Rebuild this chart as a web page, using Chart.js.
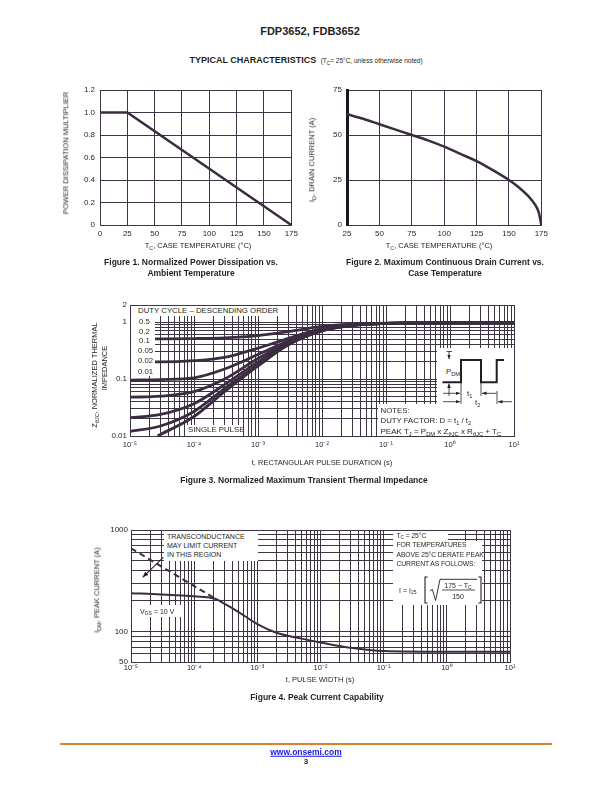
<!DOCTYPE html>
<html>
<head>
<meta charset="utf-8">
<title>FDP3652, FDB3652 typical characteristics</title>
<script src="https://cdn.jsdelivr.net/npm/chart.js@4.4.1/dist/chart.umd.min.js"></script>
<style>
html, body { margin: 0; padding: 0; background: #fff; }
#page { position: relative; width: 612px; height: 792px; overflow: hidden;
        font-family: "Liberation Sans", Arial, sans-serif; color: #231f20; }
#page canvas { position: absolute; }
.t { position: absolute; white-space: nowrap; line-height: 1; }
.c { transform: translate(-50%, -50%); }
.l { transform: translate(0, -50%); }
.r { transform: translate(-50%, -50%) rotate(-90deg); }
.w { position: absolute; background: #fff; }
.t sub { font-size: 72%; vertical-align: -0.35em; line-height: 0; }
.cap { font-weight: bold; font-size: 8.5px; }
.ax { font-size: 7.5px; }
.an { font-size: 7.8px; }
.an4 { font-size: 7px; }
.an4r { font-size: 6.8px; letter-spacing: -0.1px; }
svg { position: absolute; left: 0; top: 0; }
</style>
</head>
<body>
<div id="page">
<div class="t c" style="left:310px;top:31px;font-size:11px;font-weight:bold">FDP3652, FDB3652</div>
<div class="t c" style="left:306px;top:58px"><span style="font-size:9px;font-weight:bold">TYPICAL CHARACTERISTICS</span> <span style="font-size:6.5px">(T<sub>C</sub>= 25°C, unless otherwise noted)</span></div>

<canvas id="fig1" width="242" height="165" style="left:60px;top:80px"></canvas>
<canvas id="fig2" width="245" height="165" style="left:307px;top:80px"></canvas>
<canvas id="fig3" width="434" height="161" style="left:90px;top:295px"></canvas>
<canvas id="fig4" width="429" height="162" style="left:91px;top:520px"></canvas>

<!-- figure 1 / 2 text -->
<div class="t r ax" style="left:66px;top:153px">POWER DISSIPATION MULTIPLIER</div>
<div class="t c ax" style="left:198px;top:246px">T<sub>C</sub>, CASE TEMPERATURE (°C)</div>
<div class="t c cap" style="left:191px;top:262px">Figure 1. Normalized Power Dissipation vs.</div>
<div class="t c cap" style="left:191px;top:272.5px">Ambient Temperature</div>

<div class="t r ax" style="left:312px;top:160px">I<sub>D</sub>, DRAIN CURRENT (A)</div>
<div class="t c ax" style="left:439px;top:246px">T<sub>C</sub>, CASE TEMPERATURE (°C)</div>
<div class="t c cap" style="left:445px;top:262px">Figure 2. Maximum Continuous Drain Current vs.</div>
<div class="t c cap" style="left:445px;top:272.5px">Case Temperature</div>

<!-- figure 3 annotation boxes -->
<div class="w" style="left:136px;top:305.5px;width:148px;height:10.5px"></div>
<div class="w" style="left:130.5px;top:316px;width:24px;height:60px"></div>
<div class="w" style="left:186px;top:424.5px;width:55px;height:11px"></div>
<div class="w" style="left:437px;top:348px;width:76.5px;height:87.5px"></div>
<div class="w" style="left:378px;top:404px;width:135.5px;height:31.5px"></div>

<div class="t l an" style="left:138px;top:310.5px">DUTY CYCLE – DESCENDING ORDER</div>
<div class="t l an" style="left:139px;top:322px">0.5</div>
<div class="t l an" style="left:139px;top:331.5px">0.2</div>
<div class="t l an" style="left:139px;top:341.3px">0.1</div>
<div class="t l an" style="left:138px;top:351.3px">0.05</div>
<div class="t l an" style="left:138px;top:361.3px">0.02</div>
<div class="t l an" style="left:138px;top:371.7px">0.01</div>
<div class="t l an" style="left:188px;top:430px">SINGLE PULSE</div>
<div class="t l an" style="left:446px;top:372px">P<sub>DM</sub></div>
<div class="t l an" style="left:467px;top:393.5px">t<sub>1</sub></div>
<div class="t l an" style="left:475px;top:403px">t<sub>2</sub></div>
<div class="t l an" style="left:380.5px;top:410.5px">NOTES:</div>
<div class="t l an" style="left:380.5px;top:421px">DUTY FACTOR: D = t<sub>1</sub> / t<sub>2</sub></div>
<div class="t l an" style="left:380.5px;top:431.5px;font-size:8px">PEAK T<sub>J</sub> = P<sub>DM</sub> x Z<sub>θJC</sub> x R<sub>θJC</sub> + T<sub>C</sub></div>

<div class="t r ax" style="left:95px;top:375px">Z<sub>θJC</sub>, NORMALIZED THERMAL</div>
<div class="t r ax" style="left:104.5px;top:368px">IMPEDANCE</div>
<div class="t c ax" style="left:322px;top:463px">t, RECTANGULAR PULSE DURATION (s)</div>
<div class="t c cap" style="left:304px;top:480px">Figure 3. Normalized Maximum Transient Thermal Impedance</div>

<!-- figure 4 annotation boxes -->
<div class="w" style="left:164px;top:530.5px;width:94px;height:30.5px"></div>
<div class="w" style="left:137.5px;top:605px;width:44px;height:12px"></div>
<div class="w" style="left:392.5px;top:530.5px;width:55px;height:10.5px"></div>
<div class="w" style="left:392.5px;top:541px;width:89.5px;height:64px"></div>

<div class="t l an4" style="left:167px;top:535.7px">TRANSCONDUCTANCE</div>
<div class="t l an4" style="left:167px;top:545px">MAY LIMIT CURRENT</div>
<div class="t l an4" style="left:167px;top:554.3px">IN THIS REGION</div>
<div class="t l an4" style="left:140px;top:610.7px">V<sub>GS</sub> = 10 V</div>
<div class="t l an4r" style="left:396.5px;top:535.5px">T<sub>C</sub> = 25°C</div>
<div class="t l an4r" style="left:396.5px;top:545px">FOR TEMPERATURES</div>
<div class="t l an4r" style="left:396.5px;top:554.5px">ABOVE 25°C DERATE PEAK</div>
<div class="t l an4r" style="left:396.5px;top:564px">CURRENT AS FOLLOWS:</div>
<div class="t l an4" style="left:399px;top:590px">I = I<sub>25</sub></div>
<div class="t c" style="left:458px;top:584.5px;font-size:7px">175 − T<sub>C</sub></div>
<div class="t c" style="left:458px;top:595.5px;font-size:7px">150</div>

<div class="t r ax" style="left:97px;top:590px">I<sub>DM</sub>, PEAK CURRENT (A)</div>
<div class="t c ax" style="left:320px;top:680px">t, PULSE WIDTH (s)</div>
<div class="t c cap" style="left:317px;top:697px">Figure 4. Peak Current Capability</div>

<svg width="612" height="792" viewBox="0 0 612 792">
  <defs>
    <marker id="ah" viewBox="0 0 10 10" refX="10" refY="5" markerWidth="4.5" markerHeight="4.5" markerUnits="userSpaceOnUse" orient="auto">
      <path d="M0,1 L10,5 L0,9 z" fill="#231f20"/>
    </marker>
    <marker id="ahBig" viewBox="0 0 10 10" refX="10" refY="5" markerWidth="6" markerHeight="6" markerUnits="userSpaceOnUse" orient="auto">
      <path d="M0,1 L10,5 L0,9 z" fill="#231f20"/>
    </marker>
  </defs>
  <g stroke="#231f20" fill="none">
    <!-- pulse train sketch -->
    <polyline stroke-width="2" points="442.5,382.3 461,382.3 461,360 481,360 481,382.3 496.7,382.3 496.7,360 504,360"/>
    <g stroke-width="0.8">
      <line x1="461" y1="382.3" x2="461" y2="404"/>
      <line x1="481" y1="382.3" x2="481" y2="396"/>
      <line x1="497" y1="391" x2="497" y2="404"/>
      <line x1="446.5" y1="351.5" x2="452" y2="351.5"/>
      <line x1="449" y1="351.5" x2="449" y2="359" marker-end="url(#ah)"/>
      <line x1="449" y1="396" x2="449" y2="383.5" marker-end="url(#ah)"/>
      <line x1="443" y1="393.3" x2="460" y2="393.3" marker-end="url(#ah)"/>
      <line x1="496.5" y1="393.3" x2="482" y2="393.3" marker-end="url(#ah)"/>
      <line x1="443" y1="401.7" x2="460" y2="401.7" marker-end="url(#ah)"/>
      <line x1="512" y1="401.7" x2="498" y2="401.7" marker-end="url(#ah)"/>
    </g>
    <!-- transconductance arrow -->
    <line stroke-width="1.1" x1="163.3" y1="557.3" x2="142.7" y2="577.3" marker-end="url(#ahBig)"/>
    <!-- derating formula brackets and root -->
    <path stroke-width="1.1" d="M427.6,577 H425 V603 H427.6"/>
    <path stroke-width="1.1" d="M478.4,577 H481 V603 H478.4"/>
    <path stroke-width="0.9" d="M430,591 L432.3,589.4 L435.6,600.5 L440,579.3 H477"/>
    <line stroke-width="0.8" x1="442" y1="590" x2="475" y2="590"/>
  </g>
</svg>

<div style="position:absolute;left:60px;top:743px;width:492px;height:2px;background:#d9822b"></div>
<div class="t c" style="left:306px;top:752px;font-size:8.5px;font-weight:bold;color:#1a1adf;text-decoration:underline">www.onsemi.com</div>
<div class="t c" style="left:306px;top:762px;font-size:8px;font-weight:bold">3</div>
</div>

<script>
// ---- Figure 1: normalized power dissipation vs. case temperature
var fig1Temp = [0, 25, 175];
var fig1Mult = [1.0, 1.0, 0];

// ---- Figure 2: maximum continuous drain current vs. case temperature
var fig2Temp = [25, 37.5, 50, 62.5, 75, 87.5, 100, 112.5, 125, 137.5, 150, 157.5, 165, 170, 173, 175];
var fig2Id   = [61.5, 59, 56, 53, 50, 47, 43.5, 39.5, 35.5, 30.5, 25, 21, 16, 11.5, 7, 0];

// ---- Figure 3: normalized transient thermal impedance, one array per duty cycle
var zTime  = [1e-5, 3e-5, 1e-4, 3e-4, 1e-3, 3e-3, 1e-2, 3e-2, 1e-1, 1, 10];
var zD50   = [0.51, 0.51, 0.515, 0.53, 0.58, 0.68, 0.84, 0.92, 0.96, 0.98, 0.98];
var zD20   = [0.2, 0.2, 0.21, 0.24, 0.35, 0.52, 0.77, 0.9, 0.95, 0.98, 0.98];
var zD10   = [0.096, 0.098, 0.105, 0.15, 0.27, 0.47, 0.75, 0.89, 0.95, 0.98, 0.98];
var zD05   = [0.048, 0.05, 0.06, 0.1, 0.23, 0.44, 0.73, 0.88, 0.95, 0.98, 0.98];
var zD02   = [0.021, 0.024, 0.037, 0.08, 0.2, 0.42, 0.72, 0.88, 0.95, 0.98, 0.98];
var zD01   = [0.012, 0.015, 0.027, 0.068, 0.18, 0.41, 0.71, 0.88, 0.95, 0.98, 0.98];
var zSingleTime = [2.7e-5, 1e-4, 3e-4, 1e-3, 3e-3, 1e-2, 3e-2, 1e-1, 1, 10];
var zSingle     = [0.01, 0.022, 0.06, 0.17, 0.4, 0.7, 0.87, 0.95, 0.98, 0.98];

// ---- Figure 4: peak current capability
var idmTime  = [1e-5, 3e-5, 1e-4, 2.2e-4, 3e-4, 5e-4, 1e-3, 2e-3, 5e-3, 1e-2, 3e-2, 1e-1, 1, 10];
var idmVgs10 = [238, 232, 222, 209, 188, 156, 118, 97, 85, 78, 69, 64, 63, 63];
var gfsTime  = [1e-5, 2.2e-4];
var gfsLimit = [660, 209];

// ---- tick labels
var logXMajor  = [1e-5, 1e-4, 1e-3, 1e-2, 1e-1, 1, 10];
var logXLabels = ['10⁻⁵', '10⁻⁴', '10⁻³', '10⁻²', '10⁻¹', '10⁰', '10¹'];
var fig3YMajor  = [0.01, 0.1, 1, 2];
var fig3YLabels = ['0.01', '0.1', '1', '2'];
var fig4YMajor  = [50, 100, 1000];
var fig4YLabels = ['50', '100', '1000'];

var INK = '#3b2c40';
var GRID = '#3f3445';
var TXT = '#231f20';
var FONT = "'Liberation Sans', Arial, sans-serif";

// every 1..9 step of each decade between lo and hi (grid lines)
function logGrid(lo, hi) {
  var out = [];
  for (var e = Math.floor(Math.log10(lo)); e <= Math.ceil(Math.log10(hi)); e++) {
    for (var m = 1; m < 10; m++) {
      var v = +(m * Math.pow(10, e)).toPrecision(6);
      if (v >= lo * 0.999 && v <= hi * 1.001) out.push(v);
    }
  }
  return out;
}

function majorLabel(major, labels) {
  return function (v) {
    for (var i = 0; i < major.length; i++) {
      if (Math.abs(major[i] - v) <= major[i] * 1e-6) return labels[i];
    }
    return '';
  };
}

function series(xv, yv, extra) {
  var ds = {
    data: xv.map(function (x, i) { return { x: x, y: yv[i] }; }),
    borderColor: INK, borderWidth: 2.5, pointRadius: 0, fill: false
  };
  return Object.assign(ds, extra || {});
}

function scale(o) {
  var isX = o.axis === 'x';
  var cfg = {
    type: o.type, min: o.min, max: o.max,
    grid: { color: GRID, lineWidth: 1, drawTicks: false },
    border: { color: o.borderColor || GRID, width: o.borderWidth || 1 },
    ticks: {
      color: TXT, font: { family: FONT, size: o.fontSize || 8 }, padding: o.pad,
      autoSkip: false, maxRotation: 0, minRotation: 0
    },
    afterFit: isX ? function (s) { s.height = 20; } : function (s) { s.width = 40; }
  };
  if (o.step) cfg.ticks.stepSize = o.step;
  if (o.grid) cfg.afterBuildTicks = function (s) { s.ticks = o.grid.map(function (v) { return { value: v }; }); };
  if (o.format) cfg.ticks.callback = o.format;
  return cfg;
}

function makeChart(id, datasets, xs, ys) {
  return new Chart(document.getElementById(id), {
    type: 'line',
    data: { datasets: datasets },
    options: {
      responsive: false, animation: false, events: [],
      layout: { padding: { left: 0, top: 10, right: 10, bottom: 0 }, autoPadding: false },
      plugins: { legend: { display: false }, tooltip: { enabled: false } },
      scales: { x: xs, y: ys }
    }
  });
}

makeChart('fig1',
  [series(fig1Temp, fig1Mult, { tension: 0 })],
  scale({ axis: 'x', type: 'linear', min: 0, max: 175, step: 25, pad: 4 }),
  scale({ axis: 'y', type: 'linear', min: 0, max: 1.2, step: 0.2, pad: 5,
          format: function (v) { return v === 0 ? '0' : v.toFixed(1); } })
);

makeChart('fig2',
  [series(fig2Temp, fig2Id, { cubicInterpolationMode: 'monotone' })],
  scale({ axis: 'x', type: 'linear', min: 25, max: 175, step: 25, pad: 4 }),
  scale({ axis: 'y', type: 'linear', min: 0, max: 75, step: 25, pad: 5,
          borderColor: '#1c1620', borderWidth: 3 })
);

var zOpts = { cubicInterpolationMode: 'monotone', borderWidth: 2.8 };
makeChart('fig3',
  [
    series(zTime, zD50, zOpts),
    series(zTime, zD20, zOpts),
    series(zTime, zD10, zOpts),
    series(zTime, zD05, zOpts),
    series(zTime, zD02, zOpts),
    series(zTime, zD01, zOpts),
    series(zSingleTime, zSingle, zOpts)
  ],
  scale({ axis: 'x', type: 'logarithmic', min: 1e-5, max: 10, pad: 4, fontSize: 7.5,
          grid: logGrid(1e-5, 10), format: majorLabel(logXMajor, logXLabels) }),
  scale({ axis: 'y', type: 'logarithmic', min: 0.01, max: 2, pad: 3,
          grid: logGrid(0.01, 2), format: majorLabel(fig3YMajor, fig3YLabels) })
);

makeChart('fig4',
  [
    series(idmTime, idmVgs10, { cubicInterpolationMode: 'monotone', borderWidth: 2 }),
    series(gfsTime, gfsLimit, { borderWidth: 2, borderDash: [6, 4], tension: 0 })
  ],
  scale({ axis: 'x', type: 'logarithmic', min: 1e-5, max: 10, pad: 1, fontSize: 7.5,
          grid: logGrid(1e-5, 10), format: majorLabel(logXMajor, logXLabels) }),
  scale({ axis: 'y', type: 'logarithmic', min: 50, max: 1000, pad: 3,
          grid: logGrid(50, 1000), format: majorLabel(fig4YMajor, fig4YLabels) })
);
</script>
</body>
</html>
